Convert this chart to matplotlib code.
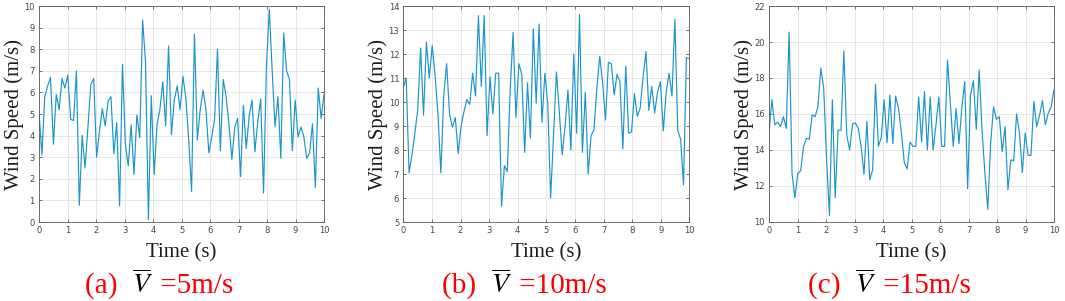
#!/usr/bin/env python
import matplotlib
matplotlib.use('Agg')

import numpy as np
import pylab as py
from matplotlib.offsetbox import TextArea, HPacker, AnnotationBbox

#--time axis: 100 samples over 10 s
time = np.linspace(0, 10, 100)

#--wind speed records (m/s)
v5 = [5.1, 3.1, 5.8, 6.3, 6.7, 3.6, 5.9, 5.2, 6.65, 6.2,
      6.8, 4.75, 4.7, 7.0, 0.77, 4.0, 2.5, 4.4, 6.35, 6.65,
      3.0, 4.2, 5.25, 4.45, 5.6, 5.8, 3.15, 4.6, 0.75, 7.3,
      3.6, 2.6, 4.5, 2.2, 4.95, 3.9, 9.35, 7.4, 0.1, 5.85,
      2.2, 4.5, 5.2, 6.5, 4.45, 8.15, 4.05, 5.65, 6.3, 5.2,
      6.75, 5.75, 3.8, 1.4, 8.7, 3.8, 5.2, 6.1, 5.2, 3.2,
      3.95, 4.75, 8.0, 3.3, 6.6, 5.8, 4.5, 2.9, 4.4, 4.8,
      2.1, 5.4, 3.4, 4.9, 5.65, 3.25, 4.65, 5.7, 1.35, 7.2,
      9.85, 7.0, 4.4, 5.8, 2.95, 8.75, 7.0, 6.6, 3.3, 5.65,
      3.95, 4.4, 3.95, 2.95, 3.2, 4.55, 1.6, 6.2, 4.8, 5.9]

v10 = [10.6, 11.0, 7.05, 7.8, 8.7, 9.7, 12.25, 9.45, 12.5, 11.0,
       12.35, 11.1, 9.5, 7.05, 10.25, 11.6, 9.5, 8.95, 9.35, 7.85,
       9.0, 9.6, 10.1, 9.9, 11.2, 10.25, 13.6, 10.65, 13.6, 8.6,
       11.05, 9.5, 11.2, 11.2, 5.65, 7.35, 7.1, 10.5, 12.9, 9.35,
       11.6, 11.15, 7.9, 10.8, 8.5, 13.05, 9.95, 13.25, 9.15, 11.2,
       9.95, 6.0, 8.6, 11.25, 9.6, 7.8, 9.0, 10.5, 8.0, 12.0,
       8.7, 13.65, 7.9, 10.4, 7.0, 8.6, 8.85, 10.6, 11.9, 10.8,
       9.25, 11.65, 11.6, 10.3, 11.15, 10.85, 8.05, 11.5, 8.7, 8.75,
       10.35, 9.4, 9.75, 11.05, 12.1, 9.65, 10.65, 9.55, 10.4, 10.85,
       8.8, 10.4, 11.2, 10.25, 13.45, 8.8, 8.45, 6.55, 11.85, 11.8]

v15 = [14.95, 16.8, 15.4, 15.55, 15.3, 15.85, 15.2, 20.55, 12.7, 11.35,
       12.7, 12.85, 14.2, 14.65, 14.6, 15.95, 15.85, 16.4, 18.55, 17.45,
       13.5, 10.35, 16.8, 11.35, 15.1, 15.1, 19.5, 14.85, 14.0, 15.45,
       15.5, 15.2, 14.2, 12.65, 15.6, 12.35, 12.9, 17.65, 14.2, 14.7,
       16.8, 14.4, 17.05, 14.35, 17.0, 16.3, 14.95, 13.3, 12.95, 14.45,
       14.2, 14.2, 16.95, 14.45, 17.25, 14.0, 16.95, 14.0, 15.4, 16.95,
       14.2, 14.2, 19.0, 16.6, 14.2, 16.3, 14.35, 16.4, 17.8, 11.85,
       17.05, 17.85, 15.15, 18.45, 15.1, 12.7, 10.7, 14.4, 16.4, 15.7,
       15.85, 13.9, 15.3, 11.8, 13.45, 13.4, 16.0, 14.95, 12.75, 14.95,
       13.7, 13.7, 16.7, 15.3, 15.95, 16.75, 15.4, 16.05, 16.4, 17.35]

series = [v5, v10, v15]
ylims  = [(0, 10), (5, 14), (10, 22)]
ysteps = [1, 1, 2]
tags   = ['(a)', '(b)', '(c)']
means  = ['5', '10', '15']


def plot():
    py.rcParams['mathtext.fontset'] = 'stix'
    W, H = 1065., 301.
    fig = py.figure(figsize=(W/100, H/100), dpi=100)

    #--axes boxes in pixels
    lefts  = [39, 403.3, 769]
    widths = [285, 286, 285]
    bottom, height = 79, 216

    serif = 'Liberation Serif'
    for k in range(3):
        ax = fig.add_axes([lefts[k]/W, bottom/H, widths[k]/W, height/H])
        ax.plot(time, series[k], color='#1b95cc', lw=0.85)

        lo, hi = ylims[k]
        ax.set_xlim(0, 10)
        ax.set_ylim(lo, hi)
        ax.set_xticks(range(11))
        ax.set_yticks(np.arange(lo, hi + 0.01, ysteps[k]))
        ax.grid(True, color='#e2e2e2', lw=0.6)
        ax.set_axisbelow(True)
        ax.tick_params(axis='both', which='both', direction='in', length=2, width=0.5,
                       top=True, right=True, labelsize=6, colors='#444444', pad=3)
        for s in ax.spines.values():
            s.set_color('#5a5a5a')
            s.set_linewidth(0.6)

        ax.set_xlabel('Time (s)', family=serif, size=15, color='#1e1e1e', va='top')
        ax.xaxis.set_label_coords(0.5, -0.1)
        ax.set_ylabel('Wind Speed (m/s)', family=serif, size=15, color='#1e1e1e', va='center')
        ax.yaxis.set_label_coords(-25./widths[k], 0.5)

        #--caption: red text with a black V-bar
        red = dict(color='#ff0000', family=serif, size=21)
        parts = [TextArea(tags[k] + '  ', textprops=red),
                 TextArea(r'$\overline{V}$', textprops=dict(color='black', size=20)),
                 TextArea(' =%sm/s' % means[k], textprops=red)]
        box = HPacker(children=parts, align='baseline', pad=0, sep=0)
        cx = (lefts[k] + widths[k]/2. - 22)/W
        ab = AnnotationBbox(box, (cx, 1 - 285/H), xycoords='figure fraction',
                            frameon=False, box_alignment=(0.5, 0.5))
        fig.add_artist(ab)

    filename = 'out.png'
    py.savefig(filename, dpi=100)
    print('Saving figure to %s' % filename)
    py.clf()


if __name__ == "__main__":
    plot()
